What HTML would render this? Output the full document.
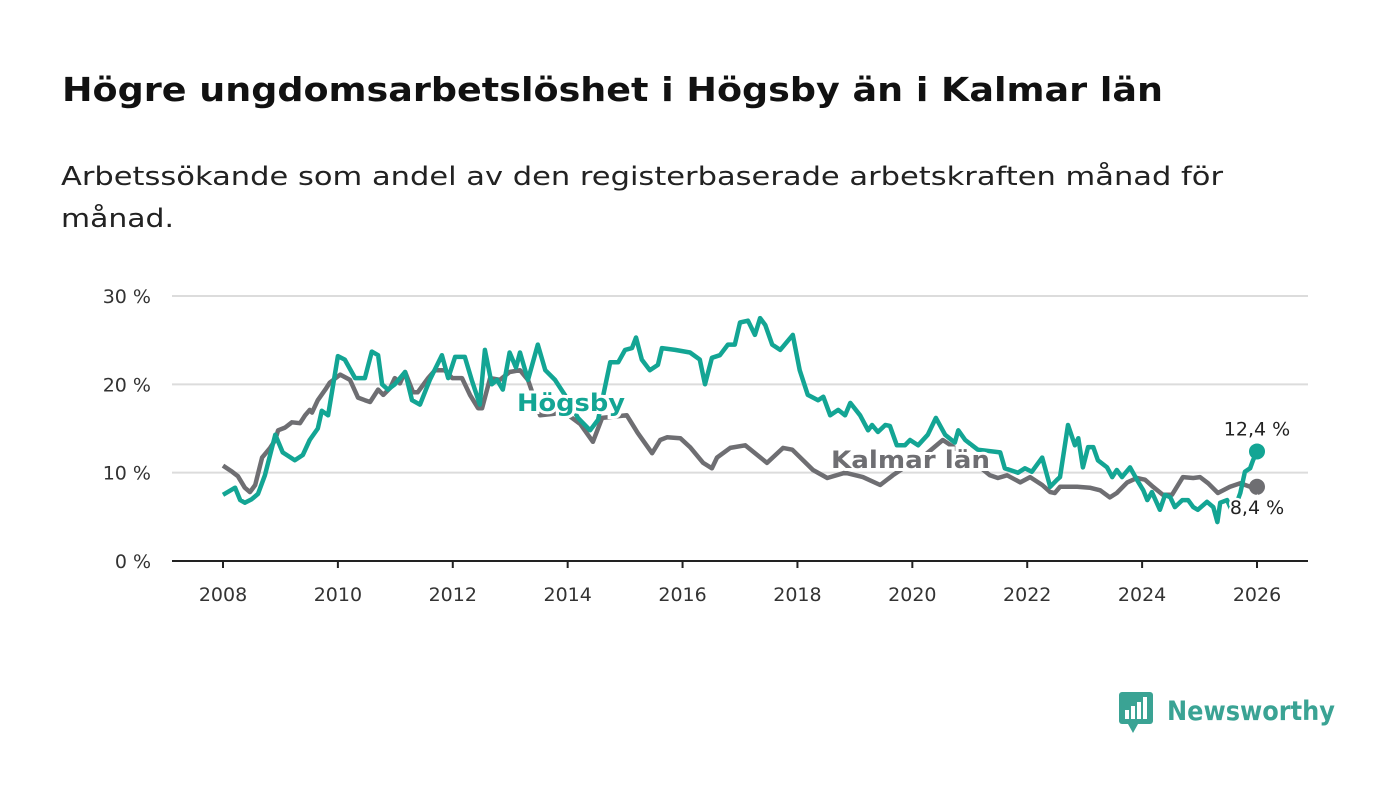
<!DOCTYPE html>
<html><head><meta charset="utf-8"><style>
html,body{margin:0;padding:0;background:#fff;}
svg text{font-family:"DejaVu Sans","Liberation Sans",sans-serif;}
</style></head><body>
<svg id="chart" width="1400" height="794" xmlns="http://www.w3.org/2000/svg">
<text x="62" y="101" font-size="33" font-weight="bold" fill="#111" textLength="1101" lengthAdjust="spacingAndGlyphs">Högre ungdomsarbetslöshet i Högsby än i Kalmar län</text>
<text x="61" y="185" font-size="26" fill="#222" textLength="1162" lengthAdjust="spacingAndGlyphs">Arbetssökande som andel av den registerbaserade arbetskraften månad för</text>
<text x="61" y="227" font-size="26" fill="#222" textLength="113" lengthAdjust="spacingAndGlyphs">månad.</text>
<g id="grid"></g><g id="axes"></g><g id="lines"></g><g id="labels"></g>
<g>
<rect x="1119" y="692" width="34" height="32" rx="3" fill="#3aa394"/>
<polygon points="1128,724 1138,724 1133,733" fill="#3aa394"/>
<rect x="1125" y="710" width="4" height="9" fill="#fff"/><rect x="1131" y="706" width="4" height="13" fill="#fff"/><rect x="1137" y="702" width="4" height="17" fill="#fff"/><rect x="1143" y="697" width="4" height="22" fill="#fff"/>
<text x="1167" y="720" font-size="27" font-weight="bold" fill="#3aa394" textLength="168" lengthAdjust="spacingAndGlyphs">Newsworthy</text>
</g>
</svg>
<script>
const hogsbyYears=[2008.00,2008.21,2008.30,2008.38,2008.50,2008.61,2008.73,2008.91,2009.04,2009.25,2009.39,2009.51,2009.65,2009.72,2009.83,2010.00,2010.12,2010.30,2010.47,2010.59,2010.70,2010.77,2010.87,2010.99,2011.17,2011.29,2011.43,2011.60,2011.81,2011.92,2012.04,2012.21,2012.33,2012.47,2012.56,2012.68,2012.77,2012.87,2012.99,2013.10,2013.17,2013.31,2013.48,2013.61,2013.78,2013.95,2014.18,2014.39,2014.53,2014.74,2014.88,2015.00,2015.12,2015.19,2015.29,2015.43,2015.57,2015.64,2015.87,2016.13,2016.30,2016.39,2016.51,2016.65,2016.79,2016.91,2017.00,2017.14,2017.26,2017.35,2017.44,2017.56,2017.70,2017.92,2018.04,2018.18,2018.36,2018.45,2018.57,2018.71,2018.83,2018.92,2019.09,2019.23,2019.30,2019.40,2019.53,2019.61,2019.73,2019.87,2019.96,2020.10,2020.27,2020.41,2020.57,2020.74,2020.80,2020.92,2021.04,2021.14,2021.53,2021.61,2021.70,2021.84,2021.96,2022.08,2022.26,2022.40,2022.52,2022.57,2022.71,2022.83,2022.89,2022.97,2023.06,2023.15,2023.23,2023.39,2023.48,2023.56,2023.65,2023.79,2023.91,2024.02,2024.09,2024.17,2024.31,2024.40,2024.49,2024.57,2024.70,2024.80,2024.89,2024.97,2025.13,2025.24,2025.31,2025.36,2025.48,2025.58,2025.71,2025.79,2025.88,2025.93,2026.00];
const hogsbyValues=[7.5,8.3,6.9,6.6,7.0,7.6,9.7,14.3,12.3,11.4,12.0,13.7,15.0,17.0,16.5,23.2,22.8,20.7,20.7,23.7,23.3,20.0,19.4,20.0,21.4,18.2,17.7,20.5,23.3,20.7,23.1,23.1,20.5,17.7,23.9,20.0,20.5,19.4,23.6,21.9,23.6,20.5,24.5,21.6,20.5,18.8,16.2,14.8,16.0,22.5,22.5,23.9,24.1,25.3,22.8,21.6,22.2,24.1,23.9,23.6,22.8,20.0,23.0,23.3,24.5,24.5,27.0,27.2,25.6,27.5,26.7,24.5,23.9,25.6,21.6,18.8,18.2,18.6,16.5,17.1,16.5,17.9,16.5,14.8,15.4,14.6,15.4,15.3,13.1,13.1,13.7,13.1,14.3,16.2,14.3,13.4,14.8,13.7,13.1,12.6,12.3,10.5,10.3,10.0,10.5,10.1,11.7,8.4,9.2,9.5,15.4,13.1,13.9,10.6,12.9,12.9,11.4,10.6,9.5,10.3,9.5,10.6,9.2,8.0,6.9,7.8,5.8,7.5,7.2,6.1,6.9,6.9,6.1,5.8,6.7,6.1,4.4,6.6,6.9,5.4,7.7,10.1,10.5,11.4,12.4];
const kalmarYears=[2008.00,2008.16,2008.26,2008.38,2008.47,2008.56,2008.68,2008.82,2008.91,2008.96,2009.08,2009.20,2009.34,2009.43,2009.51,2009.55,2009.65,2009.78,2009.86,2010.04,2010.21,2010.35,2010.47,2010.56,2010.70,2010.79,2010.91,2010.99,2011.08,2011.17,2011.31,2011.39,2011.57,2011.69,2011.86,2011.99,2012.16,2012.30,2012.44,2012.51,2012.65,2012.82,2012.99,2013.17,2013.31,2013.52,2013.95,2014.22,2014.44,2014.60,2015.03,2015.22,2015.47,2015.61,2015.73,2015.96,2016.13,2016.36,2016.51,2016.60,2016.83,2017.09,2017.47,2017.75,2017.91,2018.27,2018.52,2018.83,2019.14,2019.44,2019.66,2019.96,2020.22,2020.53,2020.60,2020.92,2021.35,2021.49,2021.65,2021.88,2022.05,2022.26,2022.40,2022.48,2022.57,2022.87,2023.09,2023.27,2023.44,2023.56,2023.74,2023.91,2024.05,2024.19,2024.36,2024.52,2024.71,2024.89,2025.01,2025.15,2025.32,2025.53,2025.71,2025.88,2026.00];
const kalmarValues=[10.8,10.1,9.6,8.3,7.8,8.6,11.7,12.8,13.7,14.8,15.1,15.7,15.6,16.5,17.1,16.8,18.2,19.4,20.2,21.1,20.5,18.5,18.2,18.0,19.4,18.8,19.6,20.7,20.1,21.4,19.1,19.1,20.7,21.6,21.6,20.7,20.7,18.8,17.3,17.3,20.7,20.5,21.4,21.6,20.5,16.5,16.8,15.5,13.5,16.2,16.5,14.5,12.2,13.7,14.0,13.9,12.9,11.1,10.5,11.7,12.8,13.1,11.1,12.8,12.6,10.3,9.4,10.0,9.5,8.6,9.7,11.0,12.0,13.7,13.4,12.0,9.7,9.4,9.7,8.9,9.5,8.6,7.8,7.7,8.4,8.4,8.3,8.0,7.2,7.7,8.9,9.4,9.2,8.4,7.5,7.5,9.5,9.4,9.5,8.8,7.7,8.4,8.8,8.4,8.4];
const yTicks=[0,10,20,30];
const yTickLabels=["0 %","10 %","20 %","30 %"];
const xTicks=[2008,2010,2012,2014,2016,2018,2020,2022,2024,2026];
const endLabels=["12,4 %","8,4 %"];

const NS="http://www.w3.org/2000/svg";
const X=y=>223+(y-2008)*(1257-223)/18;
const Y=v=>561-v*(561-296)/30;
function mk(tag,attrs,parent){const e=document.createElementNS(NS,tag);for(const k in attrs)e.setAttribute(k,attrs[k]);parent.appendChild(e);return e;}
const grid=document.getElementById('grid'),axes=document.getElementById('axes'),lines=document.getElementById('lines'),labels=document.getElementById('labels');
yTicks.forEach((t,i)=>{
  if(t>0){const g=mk('line',{x1:172,x2:1308,y1:Y(t),y2:Y(t),stroke:'#dcdcdc','stroke-width':2},grid);
  
  }
  const tx=mk('text',{x:151,y:Y(t)+7,'font-size':19,fill:'#333','text-anchor':'end'},axes);
  tx.textContent=yTickLabels[i];
  
  
});
const ax=mk('line',{x1:172,x2:1308,y1:561,y2:561,stroke:'#222','stroke-width':2},axes);


xTicks.forEach(t=>{
  const tk=mk('line',{x1:X(t),x2:X(t),y1:561,y2:568,stroke:'#222','stroke-width':2},axes);
  
  
  const tx=mk('text',{x:X(t),y:601,'font-size':19,fill:'#333','text-anchor':'middle'},axes);
  tx.textContent=t;
  
  
});
function path(xs,vs){return xs.map((x,i)=>(i?'L':'M')+X(x).toFixed(1)+','+Y(vs[i]).toFixed(1)).join('');}
const kl=mk('path',{d:path(kalmarYears,kalmarValues),fill:'none',stroke:'#6e6e72','stroke-width':4.5,'stroke-linejoin':'round'},lines);


const hl=mk('path',{d:path(hogsbyYears,hogsbyValues),fill:'none',stroke:'#13a594','stroke-width':4.5,'stroke-linejoin':'round'},lines);


const kLast=kalmarValues.length-1,hLast=hogsbyValues.length-1;
const kd=mk('circle',{cx:X(kalmarYears[kLast]),cy:Y(kalmarValues[kLast]),r:8,fill:'#6e6e72'},lines);


const hd=mk('circle',{cx:X(hogsbyYears[hLast]),cy:Y(hogsbyValues[hLast]),r:8,fill:'#13a594'},lines);


const sl1=mk('text',{x:X(hogsbyYears[hLast]),y:Y(hogsbyValues[hLast])-16,'font-size':19,fill:'#222','text-anchor':'middle',stroke:'#fff','stroke-width':5,'paint-order':'stroke'},labels);
sl1.textContent=endLabels[0];


const sl2=mk('text',{x:X(kalmarYears[kLast]),y:Y(kalmarValues[kLast])+27,'font-size':19,fill:'#222','text-anchor':'middle',stroke:'#fff','stroke-width':5,'paint-order':'stroke'},labels);
sl2.textContent=endLabels[1];


const hn=mk('text',{x:517,y:411,'font-size':24,'font-weight':'bold',fill:'#13a594',stroke:'#fff','stroke-width':6,'paint-order':'stroke',textLength:108,lengthAdjust:'spacingAndGlyphs'},labels);
hn.textContent='Högsby';


const kn=mk('text',{x:831,y:468,'font-size':24,'font-weight':'bold',fill:'#6e6e72',stroke:'#fff','stroke-width':6,'paint-order':'stroke',textLength:159,lengthAdjust:'spacingAndGlyphs'},labels);
kn.textContent='Kalmar län';


</script>
</body></html>
